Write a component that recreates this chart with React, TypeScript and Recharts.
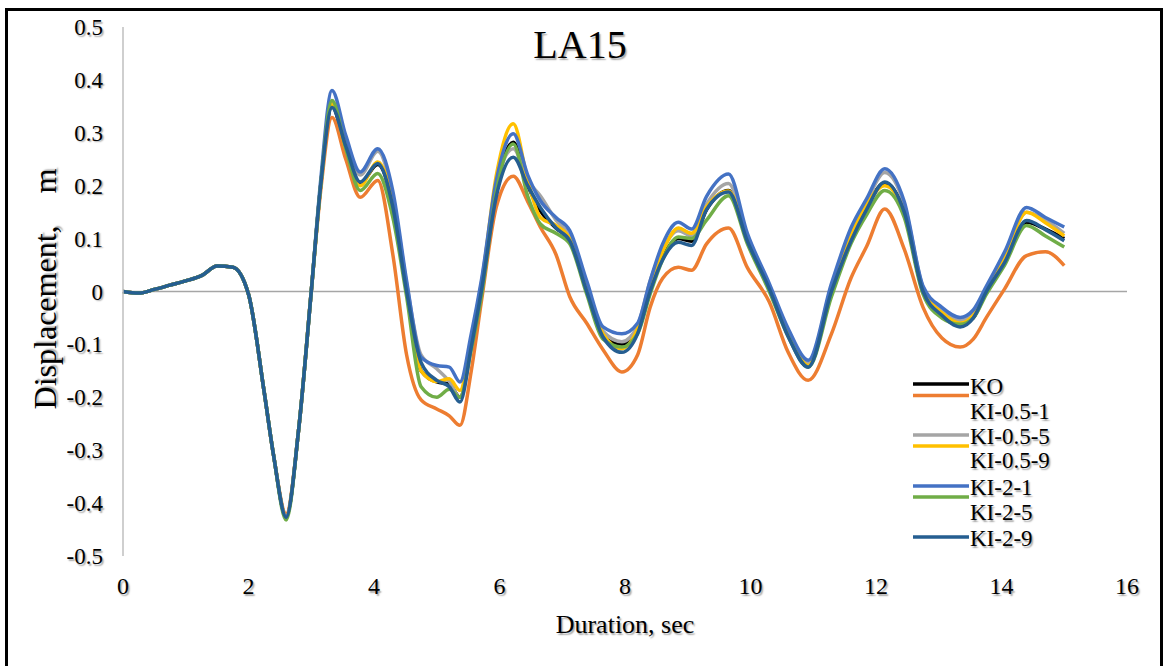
import React from 'react';
import { LineChart, Line, XAxis, YAxis, ReferenceLine } from 'recharts';

// Time (sec)
const TIME = [
  0, 0.25, 0.5, 0.75, 1.0, 1.25, 1.5, 1.75, 2.0, 2.25, 2.4, 2.6, 2.8, 3.0, 3.15,
  3.33, 3.55, 3.78, 4.06, 4.3, 4.52, 4.75, 5.0, 5.2, 5.37, 5.55, 5.71, 5.95, 6.22, 6.45,
  6.65, 6.9, 7.12, 7.39, 7.65, 7.95, 8.2, 8.4, 8.6, 8.85, 9.06, 9.3, 9.65, 9.95, 10.3,
  10.6, 10.92, 11.29, 11.6, 11.85, 12.14, 12.45, 12.75, 13.05, 13.34, 13.55, 13.76, 14.05, 14.4, 14.7,
  15.0,
];

const KO = [
  0, -0.003, 0.004, 0.012, 0.02, 0.03, 0.048, 0.046, -0.005, -0.19, -0.31, -0.425, -0.26, 0.0, 0.2,
  0.35, 0.27, 0.205, 0.24, 0.165, 0.005, -0.15, -0.171, -0.175, -0.2, -0.1, 0.005, 0.2, 0.282, 0.2,
  0.153, 0.12, 0.097, 0.0, -0.085, -0.1, -0.07, 0.005, 0.065, 0.1, 0.095, 0.155, 0.191, 0.1, 0.005,
  -0.08, -0.14, 0.0, 0.1, 0.16, 0.205, 0.15, 0.0, -0.042, -0.064, -0.05, 0.0, 0.058, 0.131, 0.118,
  0.1,
];
const KI_05_1 = [
  0, -0.003, 0.004, 0.012, 0.02, 0.03, 0.048, 0.046, -0.005, -0.19, -0.31, -0.42, -0.26, 0.0, 0.19,
  0.329, 0.25, 0.178, 0.21, 0.07, -0.12, -0.205, -0.222, -0.235, -0.253, -0.15, -0.02, 0.16, 0.218, 0.17,
  0.122, 0.07, -0.01, -0.06, -0.11, -0.152, -0.12, -0.03, 0.025, 0.046, 0.04, 0.09, 0.12, 0.045, -0.02,
  -0.115, -0.168, -0.08, 0.025, 0.085, 0.156, 0.08, -0.03, -0.088, -0.105, -0.09, -0.049, 0.005, 0.068, 0.075,
  0.049,
];
const KI_05_5 = [
  0, -0.003, 0.004, 0.012, 0.02, 0.03, 0.048, 0.046, -0.005, -0.19, -0.31, -0.425, -0.26, 0.0, 0.2,
  0.36, 0.285, 0.22, 0.265, 0.18, 0.015, -0.12, -0.146, -0.17, -0.2, -0.09, 0.015, 0.2, 0.27, 0.21,
  0.181, 0.135, 0.105, 0.01, -0.075, -0.095, -0.065, 0.02, 0.08, 0.115, 0.105, 0.165, 0.204, 0.105, 0.01,
  -0.075, -0.135, 0.01, 0.11, 0.17, 0.225, 0.165, 0.008, -0.035, -0.055, -0.04, 0.006, 0.07, 0.15, 0.135,
  0.11,
];
const KI_05_9 = [
  0, -0.003, 0.004, 0.012, 0.02, 0.03, 0.048, 0.046, -0.005, -0.19, -0.31, -0.425, -0.26, 0.0, 0.2,
  0.355, 0.27, 0.2, 0.245, 0.17, 0.005, -0.15, -0.17, -0.165, -0.187, -0.09, 0.01, 0.22, 0.317, 0.21,
  0.14, 0.125, 0.1, 0.005, -0.08, -0.108, -0.07, 0.01, 0.075, 0.12, 0.11, 0.16, 0.19, 0.1, 0.005,
  -0.08, -0.14, 0.0, 0.105, 0.165, 0.2, 0.15, 0.003, -0.04, -0.06, -0.045, 0.003, 0.065, 0.15, 0.13,
  0.105,
];
const KI_2_1 = [
  0, -0.003, 0.004, 0.012, 0.02, 0.03, 0.048, 0.046, -0.005, -0.19, -0.31, -0.425, -0.26, 0.0, 0.21,
  0.38, 0.295, 0.226, 0.27, 0.19, 0.02, -0.124, -0.14, -0.143, -0.171, -0.08, 0.02, 0.21, 0.298, 0.22,
  0.172, 0.14, 0.115, 0.02, -0.067, -0.08, -0.06, 0.02, 0.09, 0.131, 0.118, 0.18, 0.222, 0.11, 0.015,
  -0.07, -0.13, 0.015, 0.12, 0.175, 0.232, 0.17, 0.01, -0.03, -0.049, -0.035, 0.01, 0.075, 0.159, 0.14,
  0.122,
];
const KI_2_5 = [
  0, -0.003, 0.004, 0.012, 0.02, 0.03, 0.048, 0.046, -0.005, -0.19, -0.31, -0.432, -0.26, 0.0, 0.2,
  0.361, 0.27, 0.191, 0.223, 0.14, -0.01, -0.18, -0.2, -0.185, -0.2, -0.11, -0.01, 0.19, 0.279, 0.18,
  0.128, 0.11, 0.09, -0.005, -0.09, -0.105, -0.08, -0.005, 0.06, 0.103, 0.1, 0.135, 0.181, 0.09, 0.0,
  -0.085, -0.143, -0.01, 0.09, 0.145, 0.191, 0.14, -0.005, -0.05, -0.062, -0.05, -0.005, 0.05, 0.125, 0.105,
  0.084,
];
const KI_2_9 = [
  0, -0.003, 0.004, 0.012, 0.02, 0.03, 0.048, 0.046, -0.005, -0.19, -0.31, -0.427, -0.26, 0.0, 0.2,
  0.348, 0.275, 0.207, 0.242, 0.16, 0.0, -0.134, -0.168, -0.18, -0.209, -0.105, 0.0, 0.18, 0.254, 0.2,
  0.159, 0.12, 0.096, 0.0, -0.086, -0.115, -0.08, 0.0, 0.06, 0.093, 0.087, 0.155, 0.188, 0.095, 0.005,
  -0.085, -0.143, 0.0, 0.095, 0.155, 0.207, 0.15, 0.0, -0.045, -0.067, -0.05, 0.0, 0.055, 0.134, 0.117,
  0.096,
];

const SERIES = [
  { key: 'KO', name: 'KO', values: KO, color: '#000000' },
  { key: 'KI051', name: 'KI-0.5-1', values: KI_05_1, color: '#ED7D31' },
  { key: 'KI055', name: 'KI-0.5-5', values: KI_05_5, color: '#A5A5A5' },
  { key: 'KI059', name: 'KI-0.5-9', values: KI_05_9, color: '#FFC000' },
  { key: 'KI21', name: 'KI-2-1', values: KI_2_1, color: '#4472C4' },
  { key: 'KI25', name: 'KI-2-5', values: KI_2_5, color: '#70AD47' },
  { key: 'KI29', name: 'KI-2-9', values: KI_2_9, color: '#255E91' },
];

const X_TICKS = [0, 2, 4, 6, 8, 10, 12, 14, 16];
const Y_TICKS = [-0.5, -0.4, -0.3, -0.2, -0.1, 0, 0.1, 0.2, 0.3, 0.4, 0.5];
const TITLE = 'LA15';
const X_LABEL = 'Duration, sec';
const Y_LABEL = 'Displacement,    m';

const data = TIME.map((t, i) => {
  const row: Record<string, number> = { t };
  SERIES.forEach((s) => {
    row[s.key] = s.values[i];
  });
  return row;
});

const FONT = '"Liberation Serif", "Times New Roman", serif';
const SHADOW = { textShadow: '1.5px 1.5px 1.5px rgba(0,0,0,0.35)' } as React.CSSProperties;

const W = 1166;
const H = 666;
const PLOT_LEFT = 123;
const PLOT_RIGHT = 1127;
const PLOT_TOP = 27;
const PLOT_BOTTOM = 556;

const fmtY = (v: number) => {
  const n = Number(v.toFixed(1));
  return n === 0 ? '0' : String(n);
};

const YTick = (props: any) => {
  const { y, payload } = props;
  return (
    <text x={PLOT_LEFT - 20} y={y} dy={8} textAnchor="end" fontSize={23} fontFamily={FONT} fill="#000" style={SHADOW}>
      {fmtY(payload.value)}
    </text>
  );
};

const XTick = (props: any) => {
  const { x, payload } = props;
  return (
    <text x={x} y={PLOT_BOTTOM + 38} textAnchor="middle" fontSize={24} fontFamily={FONT} fill="#000" style={SHADOW}>
      {String(payload.value)}
    </text>
  );
};

const LEGEND_LEFT = 913;
const LEGEND_LINE_Y = [384, 395.5, 435, 446, 486, 497, 537];
const LEGEND_TEXT_Y = [386, 411, 436, 460, 487, 512, 538];

export default function App() {
  return (
    <div style={{ position: 'fixed', left: 0, top: 0, width: W, height: H, overflow: 'hidden', background: '#fff' }}>
      <div
        style={{
          position: 'absolute',
          left: 5,
          top: 8,
          width: 1158 - 6,
          height: 700,
          border: '3px solid #000',
        }}
      />
      <div style={{ position: 'absolute', left: 0, top: 0 }}>
        <LineChart width={W} height={H} data={data} margin={{ top: PLOT_TOP, right: W - PLOT_RIGHT, bottom: 80, left: 63 }}>
          <XAxis
            dataKey="t"
            type="number"
            domain={[0, 16]}
            ticks={X_TICKS}
            axisLine={false}
            tickLine={false}
            height={30}
            tick={<XTick />}
            interval={0}
          />
          <YAxis
            type="number"
            domain={[-0.5, 0.5]}
            ticks={Y_TICKS}
            width={60}
            axisLine={{ stroke: '#BFBFBF', strokeWidth: 1.5 }}
            tickLine={false}
            tick={<YTick />}
            interval={0}
          />
          <ReferenceLine y={0} stroke="#A6A6A6" strokeWidth={1.5} />
          {SERIES.map((s) => (
            <Line
              key={s.key}
              dataKey={s.key}
              name={s.name}
              stroke={s.color}
              strokeWidth={3.5}
              dot={false}
              type="monotone"
              isAnimationActive={false}
            />
          ))}
        </LineChart>
      </div>
      <svg width={W} height={H} style={{ position: 'absolute', left: 0, top: 0, pointerEvents: 'none' }}>
        <text x={580} y={58} textAnchor="middle" fontSize={40} fontFamily={FONT} fill="#000" style={SHADOW}>
          {TITLE}
        </text>
        <text x={(PLOT_LEFT + PLOT_RIGHT) / 2} y={633} textAnchor="middle" fontSize={26} fontFamily={FONT} fill="#000" style={SHADOW}>
          {X_LABEL}
        </text>
        <text
          transform={`translate(56, 289) rotate(-90)`}
          textAnchor="middle"
          fontSize={32}
          fontFamily={FONT}
          fill="#000"
          style={{ ...SHADOW, whiteSpace: 'pre' }}
        >
          {Y_LABEL}
        </text>
        {SERIES.map((s, i) => (
          <g key={s.key}>
            <line x1={LEGEND_LEFT} x2={LEGEND_LEFT + 56} y1={LEGEND_LINE_Y[i]} y2={LEGEND_LINE_Y[i]} stroke={s.color} strokeWidth={3.5} />
            <text x={LEGEND_LEFT + 57} y={LEGEND_TEXT_Y[i]} dy={8} fontSize={23} fontFamily={FONT} fill="#000" style={SHADOW}>
              {s.name}
            </text>
          </g>
        ))}
      </svg>
    </div>
  );
}
